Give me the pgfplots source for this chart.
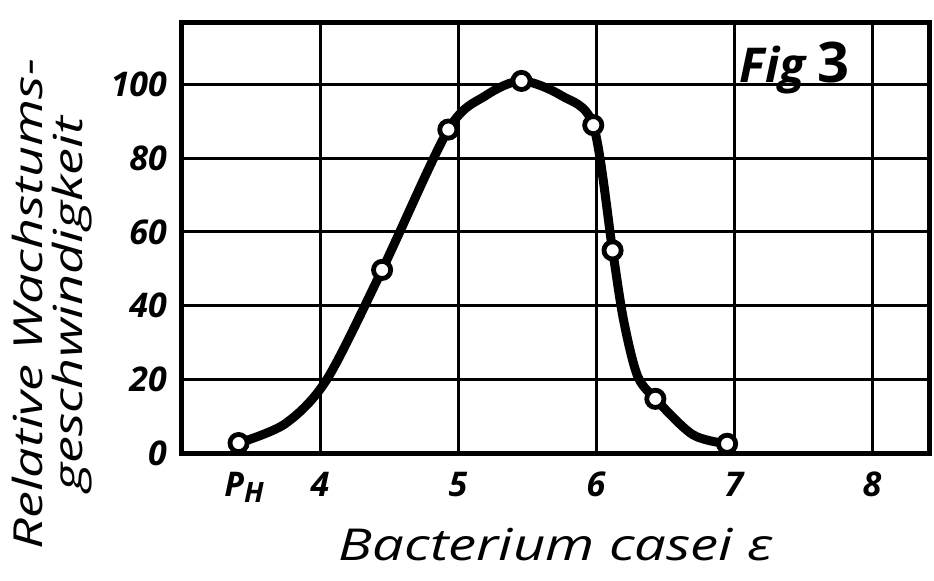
\documentclass[border=0pt]{standalone}
\usepackage{pgfplots}
\pgfplotsset{compat=1.18}
\usepackage{fontspec}
\setmainfont{Open Sans}
\begin{document}
\begin{tikzpicture}
\useasboundingbox (0,0) rectangle (467pt,290pt);
\begin{axis}[
  at={(91pt,63.5pt)}, anchor=south west,
  scale only axis, width=374pt, height=215.5pt,
  xmin=3, xmax=8.42, ymin=0, ymax=117,
  xtick={4,5,6,7,8}, ytick={0,20,40,60,80,100},
  extra x ticks={3.45}, extra x tick labels={P\raisebox{-0.35ex}{\fontsize{14}{14}\selectfont H}},
  extra x tick style={grid=none},
  grid=major, major grid style={line width=1.5pt, black},
  axis line style={line width=2.5pt},
  major tick length=0pt,
  tick label style={font=\fontsize{17}{17}\selectfont\itshape\bfseries},
  /pgf/number format/assume math mode=true,
  xticklabel style={yshift=-6pt},
  yticklabel style={xshift=-4pt},
  clip=false,
  xlabel={\scalebox{1.28}[1]{Bacterium casei ε}},
  xlabel style={font=\fontsize{22}{22}\selectfont\itshape, at={(axis description cs:0.5,-0.213)}, anchor=center},
  ylabel={\scalebox{1.35}[1]{Relative Wachstums-}\\\scalebox{1.35}[1]{geschwindigkeit}},
  ylabel style={font=\fontsize{20}{20}\selectfont\itshape, align=center, at={(axis description cs:-0.174,0.345)}, anchor=center},
]
\addplot[line width=4.5pt, smooth, tension=0.5, line cap=round] coordinates {
(3.41,2.7) (3.75,8) (4.05,20) (4.45,49.7) (4.93,87.8)
(5.2,97) (5.46,101) (5.75,97) (5.98,89) (6.12,55)
(6.2,36) (6.3,21) (6.43,14.7) (6.7,5) (6.95,2.5)
};
\addplot[only marks, mark=*, mark size=4.3pt, mark options={fill=white, draw=black, line width=2.4pt}] coordinates {
(3.41,2.7) (4.45,49.7) (4.93,87.8) (5.46,101) (5.98,89) (6.12,55) (6.43,14.7) (6.95,2.5)
};
\node[anchor=base, inner sep=0, font=\fontsize{24}{24}\selectfont\itshape\bfseries] at (axis cs:7.44,100.5) {Fig \upshape\fontsize{28}{28}\selectfont 3};
\end{axis}
\end{tikzpicture}
\end{document}
